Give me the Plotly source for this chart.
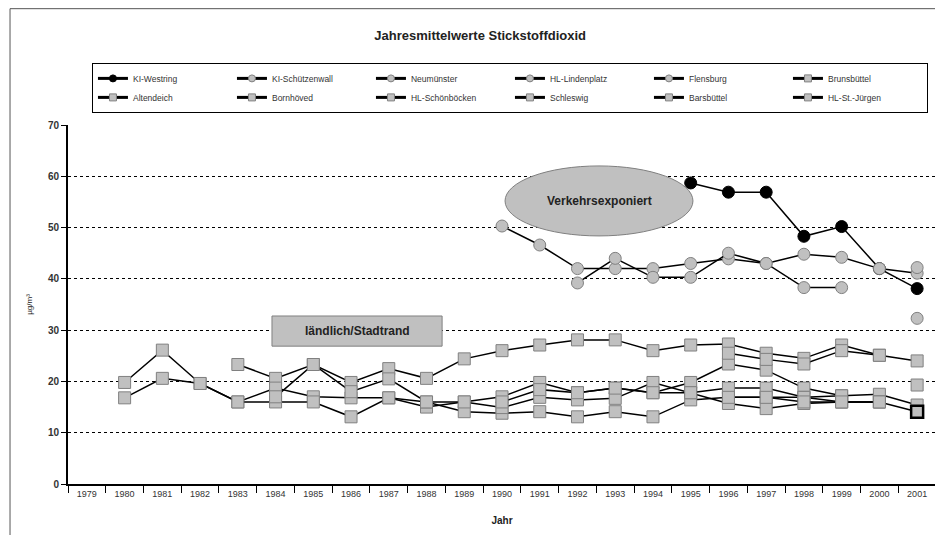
import plotly.graph_objects as go

# data
years = ['1979', '1980', '1981', '1982', '1983', '1984', '1985', '1986', '1987', '1988', '1989', '1990',
         '1991', '1992', '1993', '1994', '1995', '1996', '1997', '1998', '1999', '2000', '2001']

N = None
ki_westring = [N, N, N, N, N, N, N, N, N, N, N, N,
               N, N, N, N, 58.7, 56.9, 56.9, 48.3, 50.2, 42.0, 38.1]
ki_schuetzenwall = [N, N, N, N, N, N, N, N, N, N, N, 50.3,
                    46.6, 42.0, 42.0, 42.0, 43.0, 43.9, 43.0, 44.8, 44.2, 42.0, 41.1]
neumuenster = [N, N, N, N, N, N, N, N, N, N, N, N,
               N, 39.2, 44.0, 40.3, 40.3, 45.0, 43.0, 38.3, 38.3, N, N]
hl_lindenplatz = [N, N, N, N, N, N, N, N, N, N, N, N,
                  N, N, N, N, N, N, N, N, N, N, 42.2]
flensburg = [N, N, N, N, N, N, N, N, N, N, N, N,
             N, N, N, N, N, N, N, N, N, N, 32.3]

brunsbuettel = [N, N, N, N, 23.3, 20.6, 23.3, 19.8, 22.5, 20.6, 24.4, 26.0,
                27.1, 28.1, 28.1, 26.0, 27.1, 27.3, 25.5, 24.5, 27.1, 25.1, 24.0]
altendeich = [N, 19.8, 26.1, 19.6, 16.0, 18.7, 17.0, 16.8, 16.8, 15.0, 16.0, 17.0,
              19.8, 17.8, 18.7, 17.8, 19.8, 23.4, 22.2, 18.7, 17.2, 17.5, 15.4]
bornhoeved = [N, 16.8, 20.6, 19.6, 16.0, 16.0, 16.0, 13.1, 16.8, 16.0, 14.1, 13.8,
              14.1, 13.1, 14.1, 13.1, 16.4, 16.9, 16.9, 16.9, 16.0, 16.0, N]
hl_schoenboecken = [N, N, N, N, N, 17.0, 23.3, 18.0, 20.5, 16.0, 16.0, 14.9,
                    16.9, 16.4, 16.7, 19.8, 17.8, 15.7, 14.7, 15.7, 16.0, 16.0, N]
schleswig = [N, N, N, N, N, N, N, N, N, N, N, 16.0,
             18.4, 17.8, 18.7, 17.8, 17.8, 18.7, 18.7, 16.9, 17.2, N, 19.3]
barsbuettel = [N, N, N, N, N, N, N, N, N, N, N, N,
               N, N, N, N, N, 25.5, 24.3, 23.4, 26.0, 25.1, N]
hl_st_juergen = [N, N, N, N, N, N, N, N, N, N, N, N,
                 N, N, N, N, N, 16.9, 16.9, 16.0, 16.0, 16.0, 14.1]

series = [
    ('KI-Westring', ki_westring, 'circle', 'black'),
    ('KI-Schützenwall', ki_schuetzenwall, 'circle', 'gray'),
    ('Neumünster', neumuenster, 'circle', 'gray'),
    ('HL-Lindenplatz', hl_lindenplatz, 'circle', 'gray'),
    ('Flensburg', flensburg, 'circle', 'gray'),
    ('Brunsbüttel', brunsbuettel, 'square', 'gray'),
    ('Altendeich', altendeich, 'square', 'gray'),
    ('Bornhöved', bornhoeved, 'square', 'gray'),
    ('HL-Schönböcken', hl_schoenboecken, 'square', 'gray'),
    ('Schleswig', schleswig, 'square', 'gray'),
    ('Barsbüttel', barsbuettel, 'square', 'gray'),
    ('HL-St.-Jürgen', hl_st_juergen, 'square', 'gray'),
]

fnt = 'Liberation Sans, Arial'
fig = go.Figure()

for name, vals, sym, col in series:
    fill = 'black' if col == 'black' else '#c0c0c0'
    edge = 'black' if col == 'black' else '#808080'
    if name == 'HL-St.-Jürgen':
        edge = ['#808080'] * (len(vals) - 1) + ['black']
        ew = [1] * (len(vals) - 1) + [2.5]
    else:
        ew = 1
    fig.add_trace(go.Scatter(x=years, y=vals, mode='lines+markers', name=name, showlegend=False,
                             line=dict(color='black', width=1.5),
                             marker=dict(symbol=sym, size=12, color=fill,
                                         line=dict(color=edge, width=ew))))

# legend entries with smaller markers
for name, vals, sym, col in series:
    fill = 'black' if col == 'black' else '#c0c0c0'
    edge = 'black' if col == 'black' else '#808080'
    fig.add_trace(go.Scatter(x=[None], y=[None], mode='lines+markers', name=name,
                             line=dict(color='black', width=3),
                             marker=dict(symbol=sym, size=7, color=fill,
                                         line=dict(color=edge, width=1))))

# the page body adds an 8px offset, so the figure is 8px smaller than the window
fig.update_layout(
    width=935, height=527,
    margin=dict(l=60, r=7, t=117, b=51, autoexpand=False),
    paper_bgcolor='white', plot_bgcolor='white',
    font=dict(family=fnt, color='#222222', size=10),
    title=dict(text='<b>Jahresmittelwerte Stickstoffdioxid</b>', x=0.505, xanchor='center',
               y=0.948, yanchor='middle', font=dict(size=13, color='#222222')),
    legend=dict(orientation='h', x=0.0276, y=1.173, xanchor='left', yanchor='top',
                entrywidth=94, entrywidthmode='pixels',
                bordercolor='black', borderwidth=1, bgcolor='white',
                font=dict(family=fnt, size=8.5, color='#333333'),
                tracegroupgap=0, itemwidth=30),
    xaxis=dict(type='category', range=[-0.5, 22.5], showgrid=False, showline=True,
               linecolor='black', linewidth=2,
               ticks='outside', tickson='boundaries', ticklen=7, tickcolor='black',
               tickfont=dict(family=fnt, size=9, color='#333333'),
               title=dict(text='<b>Jahr</b>', font=dict(family=fnt, size=10), standoff=19)),
    yaxis=dict(range=[0, 70], dtick=10, showgrid=True, gridcolor='black', griddash='dot',
               gridwidth=1, showline=True, linecolor='black', linewidth=2, mirror=True,
               ticks='outside', ticklen=5, tickcolor='black', zeroline=False,
               tickfont=dict(size=10, color='#333333', family=fnt),
               tickprefix='<b>', ticksuffix='</b>',
               title=dict(text='µg/m³', font=dict(size=8), standoff=14)),
)

# outer frame lines (top and left)
fig.add_shape(type='line', xref='paper', yref='paper', x0=-0.0668, x1=1.01, y0=1.324, y1=1.324,
              line=dict(color='#555555', width=1))
fig.add_shape(type='line', xref='paper', yref='paper', x0=-0.0668, x1=-0.0668, y0=1.324, y1=-0.16,
              line=dict(color='#555555', width=1))

# labels
fig.add_shape(type='circle', xref='paper', yref='paper', x0=0.5035, x1=0.72, y0=0.691, y1=0.886,
              fillcolor='#c0c0c0', line=dict(color='#808080', width=1))
fig.add_annotation(xref='paper', yref='paper', x=0.612, y=0.788, xanchor='center', yanchor='middle',
                   text='<b>Verkehrsexponiert</b>', showarrow=False, font=dict(size=12, color='#222222'))
fig.add_shape(type='rect', xref='paper', yref='paper', x0=0.235, x1=0.431, y0=0.384, y1=0.468,
              fillcolor='#c0c0c0', line=dict(color='#808080', width=1))
fig.add_annotation(xref='paper', yref='paper', x=0.333, y=0.426, xanchor='center', yanchor='middle',
                   text='<b>ländlich/Stadtrand</b>', showarrow=False, font=dict(size=12, color='#222222'))

fig.write_html("out.html")
